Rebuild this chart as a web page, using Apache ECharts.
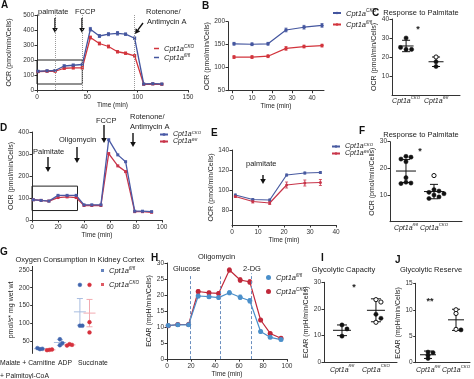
<!DOCTYPE html>
<html><head><meta charset="utf-8">
<script src="https://cdn.jsdelivr.net/npm/echarts@6/dist/echarts.min.js"></script>
<style>html,body{margin:0;padding:0;background:#fff}#c{width:474px;height:379px}</style>
</head><body><div id="c"></div>
<script>
// ---------------- DATA ----------------
// A
const aTime = [1,10,18,27,36,45,53,62,71,80,88,97,106,115,124];
const aFL  = [125,128,130,160,165,170,405,360,372,378,372,345,40,42,40];   // blue
const aKO  = [122,125,125,145,148,148,350,310,290,255,245,228,38,40,38];   // red
const aErrFL = [5,5,5,8,8,8,12,10,10,12,8,8,4,4,4];
const aErrKO = [5,5,5,8,8,8,10,10,10,8,8,8,4,4,4];
const aInject = [18,45,97];
// B
const bTime = [1,10,18,27,36,45];
const bKO = [152,151,152,182,188,192];   // blue
const bFL = [123,123,125,142,146,148];   // red
// C
const cCats = ['CKO','fl/fl'];
const cVals = [[30,24,24,25],[20,17.5,15]];
const cMean = [25.8,17.5];
const cSd   = [3,2.5];
// D
const dTime = [1,7,13,20,27,34,40,46,53,59,66,72,79,85,92];
const dKO = [92,89,86,112,112,112,69,69,69,365,296,265,40,40,38];  // blue
const dFL = [92,89,86,102,105,102,66,66,66,302,246,220,38,38,35];  // red
// E
const eTime = [1.3,8,14.5,21,28,34];
const eKO = [95,90.5,90,115,117,117.5];   // blue
const eFL = [93.5,88.5,87,105,107,107.5]; // red
const eErrKO = [1,1,1,1,1,1];
const eErrFL = [1,1.5,1.5,3,3,3];
// F
const fCats = ['fl/fl','CKO'];
const fVals = [[24.5,24.2,23.5,22.5,16.5,14.8,14.5,14.3],[17.3,12,11.5,11,10.5,10,9.3,8.7]];
const fMean = [19,11.3];
const fSd   = [4.3,2.7];
// G
const gCats = ['Malate + Carnitine','ADP','Succinate'];
const gFL = [[27,28,30],[55,44,38],[208,93,93]];    // blue
const gKO = [[25,26,24],[41,39,37],[208,103,74]];   // red
const gMeanFL = [28.3,45.7,132];
const gSdFL   = [1.5,8.6,37.5];
const gMeanKO = [25,39,128.5];
const gSdKO   = [1,2,38.5];
// H
const hTime = [1,9,18,26,35,43,52,61,69,78,86,95];
const hFL = [10.5,10.7,10.7,19.7,19.5,19.2,20.7,19.3,18.2,8.6,6.8,6.1];   // blue
const hKO = [10.4,10.8,10.8,21.1,20.7,20.5,27.8,24.7,24.1,12.2,8.0,6.5];  // red
const hErr = [0.4,0.4,0.4,0.6,0.5,0.5,0.6,0.7,0.7,0.5,0.4,0.4];
const hInject = [19,44,70.5];
const hInjectTop = [26.3,25.8,26.8];
// I
const iCats = ['fl/fl','CKO'];
const iVals = [[14,12.5,9.8],[23.5,22.6,18,16.5,15]];
const iMean = [12,19.5];
const iSd   = [2,4.3];
// J
const jCats = ['fl/fl','CKO'];
const jVals = [[2.0,1.9,1.4,0.8],[10,9.3,6.3,6.2]];
const jMean = [1.5,8.1];
const jSd   = [0.7,2];

// ---------------- STYLE / HELPERS ----------------
const FONT = '"Liberation Sans", Arial, sans-serif';
const AX = '#333';
const grids=[], xAxes=[], yAxes=[], series=[], legends=[], graphics=[];

function makeRich(fs, lh){
  return {
    i:{fontStyle:'italic', fontSize:fs, fontFamily:FONT, color:'#222', lineHeight:lh, verticalAlign:'bottom'},
    s:{fontStyle:'italic', fontSize:Math.round(fs*0.62*10)/10, fontFamily:FONT, color:'#222', lineHeight:Math.round(lh*0.6), verticalAlign:'top'}
  };
}
function cpt(sup){ return '{i|Cpt1a}{s|'+sup+'}'; }

function addGrid(l,t,w,h){ grids.push({left:l,top:t,width:w,height:h}); return grids.length-1; }
function axis(g, o){
  const a = {
    gridIndex:g, type:'value', min:o.min, max:o.max,
    axisLine:{show:o.line!==false, onZero:false, lineStyle:{color:AX,width:1}},
    axisTick:{show:o.tick!==false, length:2.5, lineStyle:{color:AX,width:1}},
    axisLabel:{show:o.label!==false, fontSize:6.5, color:'#333', fontFamily:FONT, margin:o.margin==null?3:o.margin},
    splitLine:{show:false},
    name:o.name||'', nameLocation:'middle', nameGap:o.nameGap||10,
    nameTextStyle:{fontSize:o.nfs||7, color:'#222', fontFamily:FONT}
  };
  if(o.interval!=null) a.interval=o.interval;
  if(o.custom){ a.axisLabel.customValues=o.custom; a.axisTick.customValues=o.custom; }
  if(o.formatter) a.axisLabel.formatter=o.formatter;
  if(o.rich) a.axisLabel.rich=o.rich;
  return a;
}
function addAxes(g, xo, yo){ xAxes.push(axis(g,xo)); yAxes.push(axis(g,yo)); return xAxes.length-1; }

function lineS(ai, name, xs, ys, color, sym, size, lw){
  return {type:'line', name, xAxisIndex:ai, yAxisIndex:ai, data:xs.map((x,i)=>[x,ys[i]]),
    symbol:sym, symbolSize:size, showSymbol:true, lineStyle:{color, width:lw||1.3},
    itemStyle:{color}, z:3, animation:false};
}
function errS(ai, xs, ys, es, color, cap){
  const w = cap||1.5;
  return {type:'custom', xAxisIndex:ai, yAxisIndex:ai, silent:true, z:2,
    data:xs.map((x,i)=>[x,ys[i],es[i]]),
    renderItem:(p,api)=>{
      const x=api.value(0), y=api.value(1), e=api.value(2);
      const a=api.coord([x,y+e]), b=api.coord([x,y-e]);
      const st={stroke:color, lineWidth:0.8};
      return {type:'group', children:[
        {type:'line', shape:{x1:a[0],y1:a[1],x2:b[0],y2:b[1]}, style:st},
        {type:'line', shape:{x1:a[0]-w,y1:a[1],x2:a[0]+w,y2:a[1]}, style:st},
        {type:'line', shape:{x1:b[0]-w,y1:b[1],x2:b[0]+w,y2:b[1]}, style:st}]};
    }};
}
// dot plot (beeswarm-like spread computed from values)
function dotS(ai, groups, thr, sp, r, color, xoff, openList){
  const data=[];
  groups.forEach((vals,g)=>{
    const placed=[];
    vals.forEach((v,k)=>{
      const cand=[0,1,-1,2,-2,3,-3,4,-4];
      let slot=0;
      for(const c of cand){ if(!placed.some(p=>p.s===c && Math.abs(p.v-v)<thr)){ slot=c; break; } }
      placed.push({s:slot,v});
      const open = openList && openList[g] && openList[g].indexOf(k)>=0 ? 1 : 0;
      data.push([g+(xoff||0), v, slot, open]);
    });
  });
  return {type:'custom', xAxisIndex:ai, yAxisIndex:ai, silent:true, z:4, data,
    renderItem:(p,api)=>{
      const c=api.coord([api.value(0),api.value(1)]);
      const open=api.value(3);
      return {type:'circle', shape:{cx:c[0]+api.value(2)*sp, cy:c[1], r},
        style:{fill:open?'#fff':color, stroke:color, lineWidth:open?1:0.5}};
    }};
}
function meanS(ai, means, sds, color, hw, cw, xoff, lw){
  return {type:'custom', xAxisIndex:ai, yAxisIndex:ai, silent:true, z:3,
    data:means.map((m,i)=>[i+(xoff||0), m, sds[i]]),
    renderItem:(p,api)=>{
      const x=api.value(0), m=api.value(1), s=api.value(2);
      const c=api.coord([x,m]), a=api.coord([x,m+s]), b=api.coord([x,m-s]);
      const st={stroke:color, lineWidth:lw||1};
      return {type:'group', children:[
        {type:'line', shape:{x1:c[0]-hw,y1:c[1],x2:c[0]+hw,y2:c[1]}, style:st},
        {type:'line', shape:{x1:a[0],y1:a[1],x2:b[0],y2:b[1]}, style:st},
        {type:'line', shape:{x1:a[0]-cw,y1:a[1],x2:a[0]+cw,y2:a[1]}, style:st},
        {type:'line', shape:{x1:b[0]-cw,y1:b[1],x2:b[0]+cw,y2:b[1]}, style:st}]};
    }};
}
function legend(left, top, names, o){
  legends.push({left, top, orient:'vertical', selectedMode:false, padding:0,
    itemGap:o.gap, itemWidth:o.iw, itemHeight:o.ih, icon:o.icon,
    data:names, formatter:n=>cpt(n.split('#')[0]),
    textStyle:{fontSize:o.fs||7.5, fontFamily:FONT, color:'#222', rich:makeRich(o.fs||7.5, o.lh||9)}});
}
function txt(x,y,s,o){
  o=o||{};
  graphics.push({type:'text', x, y, silent:true, style:{text:s, fontSize:o.fs||7.5, fontFamily:FONT,
    fill:o.fill||'#222', fontWeight:o.fw||'normal', align:o.align||'left', textAlign:o.align||'left',
    verticalAlign:'middle', textVerticalAlign:'middle'}});
}
function arrow(x1,y1,x2,y2){
  const ang=Math.atan2(y2-y1,x2-x1), L=5, W=2.8;
  const bx=x2-L*Math.cos(ang), by=y2-L*Math.sin(ang);
  const px=-Math.sin(ang)*W, py=Math.cos(ang)*W;
  graphics.push({type:'line', silent:true, shape:{x1,y1,x2:bx,y2:by}, style:{stroke:'#111', lineWidth:1.4}});
  graphics.push({type:'polygon', silent:true, shape:{points:[[x2,y2],[bx+px,by+py],[bx-px,by-py]]}, style:{fill:'#111'}});
}
const catFmt = cats => (v=>cpt(cats[Math.round(v)]));

// ---------------- PANEL A ----------------
const BLUE='#44569f', RED='#d2343c';
let g = addGrid(37,15,151,75);
let A = addAxes(g, {min:0,max:150,interval:50,name:'Time (min)',nameGap:8,nfs:6.5,margin:4},
                   {min:0,max:500,interval:100,name:'OCR (pmol/min/Cells)',nameGap:24});
series.push(errS(A,aTime,aFL,aErrFL,BLUE), errS(A,aTime,aKO,aErrKO,RED));
const aRed = lineS(A,'CKO#A',aTime,aKO,RED,'rect',3,1.3);
const aBlue = lineS(A,'fl/fl#A',aTime,aFL,BLUE,'rect',3,1.3);
aBlue.markLine = {silent:true, symbol:'none', animation:false, label:{show:false},
  lineStyle:{color:'#999',type:'dotted',width:1}, data:aInject.map(v=>({xAxis:v}))};
aRed.markArea = {silent:true, animation:false, itemStyle:{color:'rgba(0,0,0,0)',borderColor:'#222',borderWidth:1},
  data:[[{coord:[0,200]},{coord:[45,40]}]]};
series.push(aRed, aBlue);
legend(154,44,['CKO#A','fl/fl#A'],{gap:0,iw:5,ih:1.5,icon:'rect'});
txt(38,12,'palmitate'); arrow(55,18,55,33);
txt(75,12,'FCCP'); arrow(82,18,82,33);
txt(146,12,'Rotenone/'); txt(147,21.5,'Antimycin A'); arrow(143,23,135,34);

// ---------------- PANEL B ----------------
g = addGrid(228,21.7,96,69);
let B = addAxes(g, {min:-2,max:46,custom:[0,10,20,30,40],name:'Time (min)',nameGap:12,nfs:6.5,margin:4},
                   {min:50,max:200,interval:50,name:'OCR (pmol/min/Cells)',nameGap:12});
series.push(errS(B,bTime,bKO,[3,3,3,4,4,4],BLUE), errS(B,bTime,bFL,[3,3,3,4,3,3],RED));
series.push(lineS(B,'CKO#B',bTime,bKO,BLUE,'circle',3.5,1.2), lineS(B,'fl/fl#B',bTime,bFL,RED,'circle',3.5,1.2));
legend(332,8.5,['CKO#B','fl/fl#B'],{gap:2.5,iw:8,ih:3});

// ---------------- PANEL C ----------------
g = addGrid(392,19,68,76);
let C = addAxes(g, {min:-0.47,max:1.8,custom:[0,1],tick:false,formatter:catFmt(cCats),rich:makeRich(7,9),margin:1},
                   {min:0,max:40,custom:[10,20,30,40],name:'OCR (pmol/min/Cells)',nameGap:10});
series.push(meanS(C,cMean,cSd,'#111',7.5,4), dotS(C,cVals,2.2,5.5,2.1,'#111',0,[[],[0]]));
txt(421,13,'Response to Palmitate',{align:'center'});
txt(418,30,'*',{fs:9,fw:'bold',align:'center'});

// ---------------- PANEL D ----------------
g = addGrid(32,132,130,88);
let D = addAxes(g, {min:0,max:100,interval:20,name:'Time (min)',nameGap:9,nfs:6.5,margin:4},
                   {min:0,max:400,interval:100,name:'OCR (pmol/min/Cells)',nameGap:17});
const dRed = lineS(D,'fl/fl#D',dTime,dFL,'#c8344a','rect',3,1.3);
dRed.markArea = {silent:true, animation:false, itemStyle:{color:'rgba(0,0,0,0)',borderColor:'#222',borderWidth:1},
  data:[[{coord:[0,154]},{coord:[35,43]}]]};
series.push(dRed, lineS(D,'CKO#D',dTime,dKO,'#4a5aa6','rect',3,1.3));
legend(159,131,['CKO#D','fl/fl#D'],{gap:0,iw:8,ih:3,fs:7,lh:7});
txt(33,152,'Palmitate'); arrow(48,157,48,172);
txt(59,140,'Oligomycin'); arrow(77,147,77,163);
txt(96,121,'FCCP'); arrow(104,125,104,143);
txt(130,117,'Rotenone/'); txt(130,126.5,'Antimycin A'); arrow(133,133,133,147);

// ---------------- PANEL E ----------------
g = addGrid(232,150,104,75);
let E = addAxes(g, {min:0,max:40,interval:10,name:'Time (min)',nameGap:8,nfs:6.5,margin:4},
                   {min:65,max:140,custom:[80,100,120,140],name:'OCR (pmol/min/Cells)',nameGap:15});
series.push(errS(E,eTime,eKO,eErrKO,'#485aa0'), errS(E,eTime,eFL,eErrFL,'#c8354a'));
series.push(lineS(E,'CKO#E',eTime,eKO,'#485aa0','circle',3,1.2), lineS(E,'fl/fl#E',eTime,eFL,'#c8354a','circle',3,1.2));
legend(331,143,['CKO#E','fl/fl#E'],{gap:0,iw:8,ih:3,fs:7,lh:7});
txt(246,164,'palmitate'); arrow(263,175,263,184);

// ---------------- PANEL F ----------------
g = addGrid(390,141.7,72,80);
let F = addAxes(g, {min:-0.57,max:2.0,custom:[0,1],tick:false,formatter:catFmt(fCats),rich:makeRich(7,9),margin:1},
                   {min:0,max:30,custom:[10,20,30],name:'OCR (pmol/min/Cells)',nameGap:8});
series.push(meanS(F,fMean,fSd,'#111',10,4), dotS(F,fVals,1.6,5,2.1,'#111',0,[[],[0]]));
txt(421,135,'Response to Palmitate',{align:'center'});
txt(420,152,'*',{fs:9,fw:'bold',align:'center'});

// ---------------- PANEL G ----------------
g = addGrid(32.7,266.4,67,87);
let G = addAxes(g, {min:-0.6,max:2.75,line:false,tick:false,label:false},
                   {min:15,max:260,custom:[50,100,150,200,250],name:'pmol/s* mg wet wt',nameGap:17});
series.push(meanS(G,gMeanFL,gSdFL,'#a9bde0',6,3,-0.24,1), meanS(G,gMeanKO,gSdKO,'#f2aab0',6,3,0.24,1));
series.push(dotS(G,gFL,12,2.5,1.9,'#3f64ad',-0.24), dotS(G,gKO,12,2.5,1.9,'#d6313d',0.24));
series.push({type:'scatter',name:'fl/fl#G',xAxisIndex:G,yAxisIndex:G,data:[],itemStyle:{color:'#3f64ad'}},
            {type:'scatter',name:'CKO#G',xAxisIndex:G,yAxisIndex:G,data:[],itemStyle:{color:'#d6313d'}});
legend(101,266,['fl/fl#G','CKO#G'],{gap:5,iw:3,ih:3,icon:'rect'});
txt(80,260,'Oxygen Consumption in Kidney Cortex',{align:'center'});
txt(0,363,gCats[0],{fs:6.8}); txt(58,363,gCats[1],{fs:6.8}); txt(78,363,gCats[2],{fs:6.8});
txt(0,376,'+ Palmitoyl-CoA',{fs:6.8});

// ---------------- PANEL H ----------------
g = addGrid(167,263,120,100);
let H = addAxes(g, {min:0,max:100,interval:20,name:'Time (min)',nameGap:8,nfs:6.5,margin:4},
                   {min:0,max:30,interval:5,name:'ECAR (mpH/min/Cells)',nameGap:11});
const HB='#4a8fca', HR='#c0283a';
series.push(errS(H,hTime,hFL,hErr,HB), errS(H,hTime,hKO,hErr,HR));
const hBlue = lineS(H,'fl/fl#H',hTime,hFL,HB,'circle',5,1.2);
hBlue.markLine = {silent:true, symbol:'none', animation:false, label:{show:false},
  lineStyle:{color:'#6b8fbf',type:[3,2],width:1},
  data:hInject.map((v,i)=>[{coord:[v,0]},{coord:[v,hInjectTop[i]]}])};
series.push(lineS(H,'CKO#H',hTime,hKO,HR,'circle',5,1.2), hBlue);
legend(266,273,['fl/fl#H','CKO#H'],{gap:5,iw:5,ih:5,icon:'circle'});
txt(173,269,'Glucose'); txt(198,257,'Oligomycin'); txt(243,269,'2-DG');

// ---------------- PANEL I ----------------
g = addGrid(324,282.3,73,80);
let I = addAxes(g, {min:-0.53,max:1.62,custom:[0,1],tick:false,formatter:catFmt(iCats),rich:makeRich(7,9),margin:2},
                   {min:0,max:30,interval:10,name:'ECAR (mpH/min/Cells)',nameGap:7});
series.push(meanS(I,iMean,iSd,'#111',9,5), dotS(I,iVals,1.8,5,2.1,'#111',0,[[],[0,1,4]]));
txt(343.5,270,'Glycolytic Capacity',{align:'center'});
txt(354,288,'*',{fs:9,fw:'bold',align:'center'});

// ---------------- PANEL J ----------------
g = addGrid(415.7,283.3,54.3,79.4);
let J = addAxes(g, {min:-0.44,max:1.5,custom:[0,1],tick:false,formatter:catFmt(jCats),rich:makeRich(7,9),margin:2},
                   {min:0,max:15,interval:5,name:'ECAR (mpH/min/Cells)',nameGap:10});
series.push(meanS(J,jMean,jSd,'#111',8,4), dotS(J,jVals,0.5,5,2.1,'#111',0,[[],[0,1,2]]));
txt(431,270,'Glycolytic Reserve',{align:'center'});
txt(430,302,'**',{fs:9,fw:'bold',align:'center'});

// panel letters
[['A',1,5],['B',202,6],['C',372,13],['D',0,128],['E',211,133],['F',359,131],['G',0,252],['H',151,258],['I',321,258],['J',395,260]]
  .forEach(p=>txt(p[1],p[2],p[0],{fs:10,fw:'bold',fill:'#111'}));

const chart = echarts.init(document.getElementById('c'), null, {renderer:'canvas'});
chart.setOption({animation:false, grid:grids, xAxis:xAxes, yAxis:yAxes, series, legend:legends, graphic:graphics});
</script></body></html>
